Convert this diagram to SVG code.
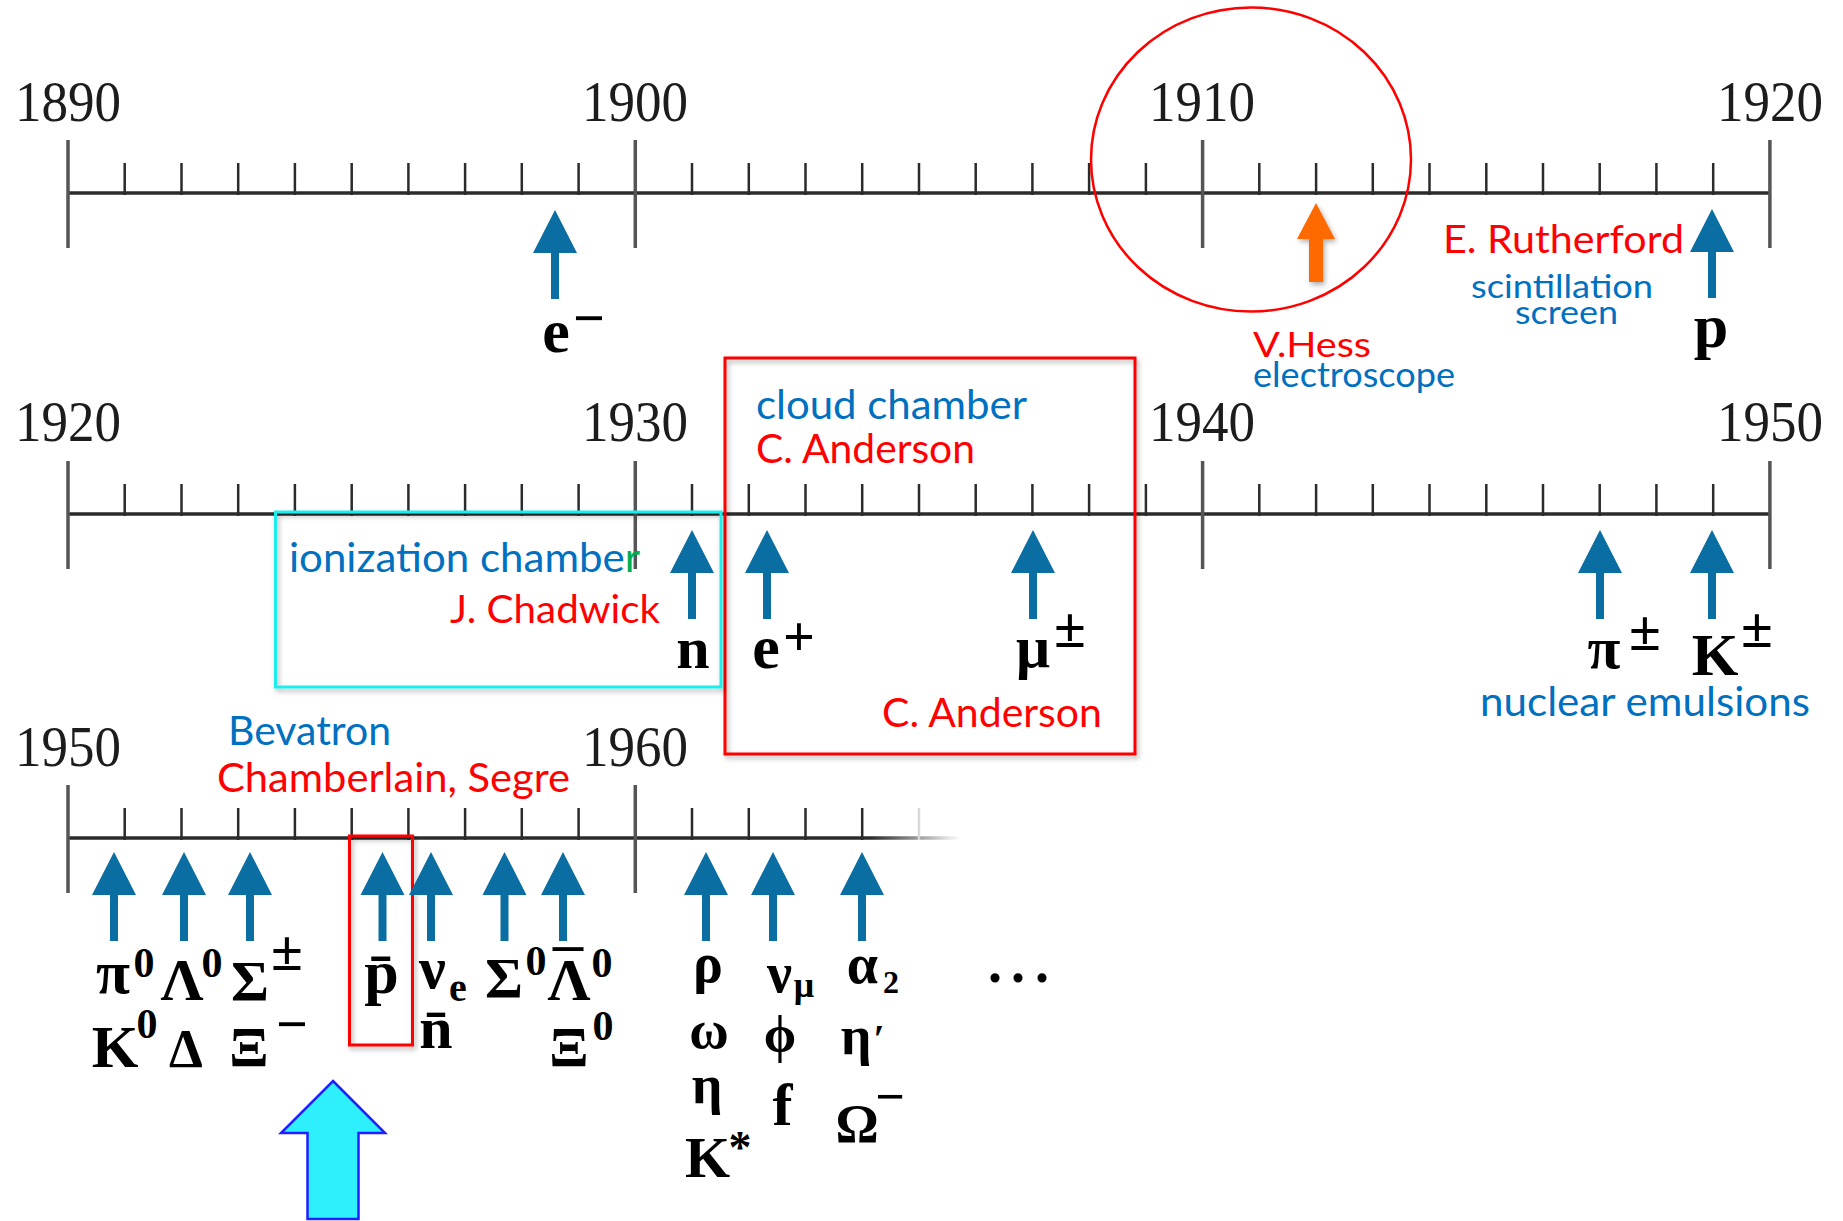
<svg xmlns="http://www.w3.org/2000/svg" xmlns:xlink="http://www.w3.org/1999/xlink" width="1843" height="1221" viewBox="0 0 1843 1221">
<defs>
<style>
.lbl{font-family:Lato,'Liberation Sans',sans-serif;}
.blue{fill:#0070C0}
.red{fill:#FF0000}
.green{fill:#00B050}
.yr{font-family:'Liberation Serif',serif;font-size:58px;fill:#1c1c1c}
.pt{font-family:'Liberation Serif','DejaVu Serif',serif;font-weight:bold;fill:#000;text-anchor:middle}
.axis{stroke:#2b2b2b;stroke-width:3.5;fill:none}
.major{stroke:#555;stroke-width:3.5;fill:none}
.minor{stroke:#2b2b2b;stroke-width:2.5;fill:none}
.box{fill:none;stroke-width:3}
</style>
<filter id="sh" x="-10%" y="-10%" width="120%" height="120%">
<feDropShadow dx="2" dy="3" stdDeviation="2.5" flood-color="#000" flood-opacity="0.3"/>
</filter>
<linearGradient id="fade" gradientUnits="userSpaceOnUse" x1="68" y1="0" x2="960" y2="0">
<stop offset="0" stop-color="#2b2b2b"/>
<stop offset="0.9" stop-color="#2b2b2b"/>
<stop offset="1" stop-color="#2b2b2b" stop-opacity="0"/>
</linearGradient>
<g id="ruler">
<path class="axis" d="M68,0 H1770"/>
<path class="major" d="M68,-53 V55 M635.3,-53 V55 M1202.6,-53 V55 M1769.9,-53 V55"/>
<path class="minor" d="M124.7,-30V2 M181.5,-30V2 M238.2,-30V2 M294.9,-30V2 M351.7,-30V2 M408.4,-30V2 M465.1,-30V2 M521.8,-30V2 M578.6,-30V2 M692,-30V2 M748.8,-30V2 M805.5,-30V2 M862.2,-30V2 M919,-30V2 M975.7,-30V2 M1032.4,-30V2 M1089.1,-30V2 M1145.9,-30V2 M1259.3,-30V2 M1316.1,-30V2 M1372.8,-30V2 M1429.5,-30V2 M1486.3,-30V2 M1543,-30V2 M1599.7,-30V2 M1656.4,-30V2 M1713.2,-30V2"/>
</g>
<path id="barrow" d="M0,0 L22,43 L4,43 L4,89 L-4,89 L-4,43 L-22,43 Z" fill="#0A6EA2"/>
</defs>
<rect width="1843" height="1221" fill="#fff"/>

<g id="timeline-1890-1920">
<use xlink:href="#ruler" href="#ruler" y="193"/>
<text class="yr" x="15" y="121" textLength="106" lengthAdjust="spacingAndGlyphs">1890</text>
<text class="yr" x="582" y="121" textLength="106" lengthAdjust="spacingAndGlyphs">1900</text>
<text class="yr" x="1149" y="121" textLength="106" lengthAdjust="spacingAndGlyphs">1910</text>
<text class="yr" x="1717" y="121" textLength="106" lengthAdjust="spacingAndGlyphs">1920</text>
</g>

<g id="timeline-1920-1950">
<use xlink:href="#ruler" href="#ruler" y="514"/>
<text class="yr" x="15" y="441" textLength="106" lengthAdjust="spacingAndGlyphs">1920</text>
<text class="yr" x="582" y="441" textLength="106" lengthAdjust="spacingAndGlyphs">1930</text>
<text class="yr" x="1149" y="441" textLength="106" lengthAdjust="spacingAndGlyphs">1940</text>
<text class="yr" x="1717" y="441" textLength="106" lengthAdjust="spacingAndGlyphs">1950</text>
</g>

<g id="timeline-1950-1965">
<path d="M68,838 H960" stroke="url(#fade)" stroke-width="3.5" fill="none"/>
<path class="major" d="M68,785 V893 M635.3,785 V893"/>
<path class="minor" d="M124.7,808V840 M181.5,808V840 M238.2,808V840 M294.9,808V840 M351.7,808V840 M408.4,808V840 M465.1,808V840 M521.8,808V840 M578.6,808V840 M692,808V840 M748.8,808V840 M805.5,808V840 M862.2,808V840"/>
<path d="M919,808V840" stroke="#d8d8d8" stroke-width="2.5"/>
<text class="yr" x="15" y="766" textLength="106" lengthAdjust="spacingAndGlyphs">1950</text>
<text class="yr" x="582" y="766" textLength="106" lengthAdjust="spacingAndGlyphs">1960</text>
</g>

<g id="hess-circle">
<ellipse cx="1251" cy="159.5" rx="160" ry="152" fill="none" stroke="#FF0000" stroke-width="2.5"/>
</g>

<g id="cloud-chamber-box">
<rect class="box" x="725" y="358" width="410" height="396" stroke="#FF0000" filter="url(#sh)"/>
</g>
<g id="ionization-box">
<rect class="box" x="275.5" y="512" width="445.5" height="175" stroke="#1EEEEE" stroke-width="3.5" filter="url(#sh)"/>
</g>
<g id="antiproton-box">
<rect class="box" x="349.5" y="836" width="63" height="209" stroke="#FF0000" filter="url(#sh)"/>
</g>

<g id="connectors">
<use xlink:href="#barrow" href="#barrow" x="555" y="210"/>
<use xlink:href="#barrow" href="#barrow" x="1712" y="209"/>
<path d="M1316,203 L1335,239 L1323,239 L1323,282 L1309,282 L1309,239 L1297,239 Z" fill="#FF6A00" filter="url(#sh)"/>
<use xlink:href="#barrow" href="#barrow" x="692" y="530"/>
<use xlink:href="#barrow" href="#barrow" x="767" y="530"/>
<use xlink:href="#barrow" href="#barrow" x="1033" y="530"/>
<use xlink:href="#barrow" href="#barrow" x="1600" y="530"/>
<use xlink:href="#barrow" href="#barrow" x="1712" y="530"/>
<use xlink:href="#barrow" href="#barrow" x="114" y="852"/>
<use xlink:href="#barrow" href="#barrow" x="184" y="852"/>
<use xlink:href="#barrow" href="#barrow" x="250" y="852"/>
<use xlink:href="#barrow" href="#barrow" x="382.5" y="852"/>
<use xlink:href="#barrow" href="#barrow" x="431" y="852"/>
<use xlink:href="#barrow" href="#barrow" x="504.5" y="852"/>
<use xlink:href="#barrow" href="#barrow" x="563" y="852"/>
<use xlink:href="#barrow" href="#barrow" x="706" y="852"/>
<use xlink:href="#barrow" href="#barrow" x="773" y="852"/>
<use xlink:href="#barrow" href="#barrow" x="862" y="852"/>
<path d="M333,1081 L385,1133 L358.5,1133 L358.5,1219 L307.5,1219 L307.5,1133 L281,1133 Z" fill="#2EF0FD" stroke="#1F1FFF" stroke-width="2.5"/>
</g>

<g id="labels">
<text class="lbl red" x="1443" y="253" font-size="39" textLength="241" lengthAdjust="spacingAndGlyphs">E. Rutherford</text>
<text class="lbl blue" x="1471" y="298" font-size="32" textLength="182" lengthAdjust="spacingAndGlyphs">scintillation</text>
<text class="lbl blue" x="1515" y="324" font-size="32" textLength="103" lengthAdjust="spacingAndGlyphs">screen</text>
<text class="lbl red" x="1253" y="357" font-size="34" textLength="118" lengthAdjust="spacingAndGlyphs">V.Hess</text>
<text class="lbl blue" x="1253" y="387" font-size="34" textLength="202" lengthAdjust="spacingAndGlyphs">electroscope</text>
<text class="lbl blue" x="756" y="419" font-size="40" textLength="271" lengthAdjust="spacingAndGlyphs">cloud chamber</text>
<text class="lbl red" x="756" y="463" font-size="40" textLength="219" lengthAdjust="spacingAndGlyphs">C. Anderson</text>
<text class="lbl blue" x="289" y="572" font-size="40" textLength="351" lengthAdjust="spacingAndGlyphs">ionization chambe<tspan class="green">r</tspan></text>
<text class="lbl red" x="450" y="623" font-size="39" textLength="210" lengthAdjust="spacingAndGlyphs">J. Chadwick</text>
<text class="lbl red" x="882" y="727" font-size="40" textLength="220" lengthAdjust="spacingAndGlyphs">C. Anderson</text>
<text class="lbl blue" x="1480" y="716" font-size="40" textLength="330" lengthAdjust="spacingAndGlyphs">nuclear emulsions</text>
<text class="lbl blue" x="228" y="745" font-size="40" textLength="163" lengthAdjust="spacingAndGlyphs">Bevatron</text>
<text class="lbl red" x="217" y="792" font-size="40" textLength="353" lengthAdjust="spacingAndGlyphs">Chamberlain, Segre</text>
</g>

<g id="particles-row1">
<text class="pt" x="556" y="352" font-size="62">e</text>
<text class="pt" x="589" y="337" font-size="56">−</text>
<text class="pt" x="1711" y="347" font-size="62">p</text>
</g>

<g id="particles-row2">
<text class="pt" x="693" y="668" font-size="60">n</text>
<text class="pt" x="766" y="668" font-size="62">e</text>
<text class="pt" x="799" y="656" font-size="56">+</text>
<text class="pt" x="1033" y="667" font-size="60">μ</text>
<text class="pt" x="1070" y="647" font-size="58">±</text>
<text class="pt" x="1604" y="668" font-size="60">π</text>
<text class="pt" x="1645" y="650" font-size="58">±</text>
<text class="pt" x="1715" y="675" font-size="60">K</text>
<text class="pt" x="1757" y="647" font-size="58">±</text>
</g>

<g id="particles-row3">
<text class="pt" x="113" y="993" font-size="62">π</text>
<text class="pt" x="144" y="977" font-size="42">0</text>
<text class="pt" x="182" y="1000" font-size="60">Λ</text>
<text class="pt" x="212" y="977" font-size="42">0</text>
<text class="pt" x="250" y="1001" font-size="58">Σ</text>
<text class="pt" x="287" y="970" font-size="58">±</text>
<text class="pt" x="115" y="1067" font-size="60">K</text>
<text class="pt" x="147" y="1038" font-size="42">0</text>
<text class="pt" x="186" y="1067" font-size="54">Δ</text>
<text class="pt" x="249" y="1067" font-size="58">Ξ</text>
<text class="pt" x="292" y="1043" font-size="56">−</text>
<text class="pt" x="381.5" y="993" font-size="62">p̄</text>
<text class="pt" x="432.5" y="988" font-size="60">ν</text>
<text class="pt" x="458" y="1001" font-size="40">e</text>
<text class="pt" x="436" y="1048" font-size="60">n̄</text>
<text class="pt" x="504" y="998" font-size="58">Σ</text>
<text class="pt" x="536" y="975" font-size="42">0</text>
<text class="pt" x="568" y="987" font-size="52" textLength="30" lengthAdjust="spacingAndGlyphs">¯</text>
<text class="pt" x="569" y="1000" font-size="60">Λ</text>
<text class="pt" x="602" y="977" font-size="42">0</text>
<text class="pt" x="569" y="1067" font-size="58">Ξ</text>
<text class="pt" x="603" y="1040" font-size="42">0</text>
<text class="pt" x="708" y="982" font-size="56">ρ</text>
<text class="pt" x="709" y="1048" font-size="54">ω</text>
<text class="pt" x="707" y="1103" font-size="54">η</text>
<text class="pt" x="707.5" y="1177" font-size="58">K</text>
<text class="pt" x="740" y="1163" font-size="46">*</text>
<text class="pt" x="779.5" y="992" font-size="56">ν</text>
<text class="pt" x="804" y="997" font-size="36">μ</text>
<text class="pt" x="780" y="1052" font-size="52">ϕ</text>
<text class="pt" x="782.5" y="1125" font-size="60">f</text>
<text class="pt" x="862.5" y="983" font-size="56">α</text>
<text class="pt" x="891" y="993" font-size="32">2</text>
<text class="pt" x="856" y="1054" font-size="54">η</text>
<text class="pt" x="879" y="1052" font-size="40">′</text>
<text class="pt" x="857" y="1142" font-size="54">Ω</text>
<text class="pt" x="890" y="1114" font-size="52">−</text>
<text class="pt" x="988 1011 1035" y="982" font-size="56" style="text-anchor:start">...</text>
</g>
</svg>
